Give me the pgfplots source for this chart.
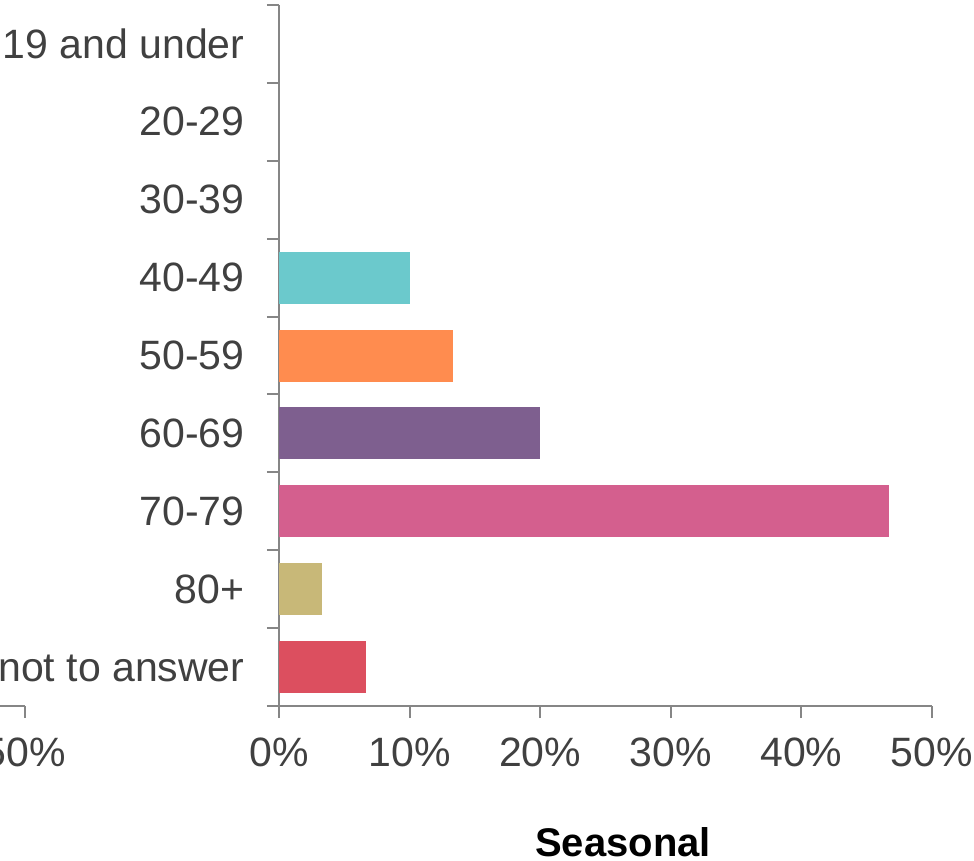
\documentclass[border=0pt]{standalone}
\usepackage{pgfplots}
\pgfplotsset{compat=1.18}
\usepackage{fontspec}
\setmainfont{Liberation Sans}
\definecolor{axgray}{HTML}{868686}
\definecolor{txtgray}{HTML}{404040}
\definecolor{cteal}{HTML}{6BC9CC}
\definecolor{corange}{HTML}{FF8C4F}
\definecolor{cpurple}{HTML}{7E5F8F}
\definecolor{cpink}{HTML}{D45F8E}
\definecolor{ckhaki}{HTML}{C8B878}
\definecolor{cred}{HTML}{DC4F5F}
\begin{document}
\begin{tikzpicture}
\path[use as bounding box] (0,0) rectangle (974pt,861pt);
% partial neighbouring axis on the left (only its right end is visible)
\begin{axis}[
  at={(-628pt,155pt)}, anchor=south west,
  scale only axis, width=653pt, height=701pt,
  xmin=0, xmax=50, ymin=0, ymax=1,
  axis x line*=bottom, axis y line=none,
  axis line style={axgray, line width=2pt},
  xtick={0,10,20,30,40,50},
  xticklabels={0\%,10\%,20\%,30\%,40\%,50\%},
  tick align=outside, major tick length=12pt,
  tick style={axgray, line width=2pt},
  xticklabel style={font=\fontsize{41}{49}\selectfont, text=txtgray, yshift=-16pt},
]
\addplot[draw=none] coordinates {(0,0)};
\end{axis}
% main axis
\begin{axis}[
  at={(279pt,155pt)}, anchor=south west,
  scale only axis, width=653pt, height=701pt,
  xbar, bar width=52pt,
  xmin=0, xmax=50, ymin=-0.5, ymax=8.5, y dir=reverse,
  axis x line*=bottom, axis y line*=left,
  axis line style={axgray, line width=2pt},
  xtick={0,10,20,30,40,50},
  xticklabels={0\%,10\%,20\%,30\%,40\%,50\%},
  ytick={0,1,2,3,4,5,6,7,8},
  yticklabels={19 and under,20-29,30-39,40-49,50-59,60-69,70-79,80+,Prefer not to answer},
  minor ytick={-0.5,0.5,1.5,2.5,3.5,4.5,5.5,6.5,7.5,8.5},
  tick align=outside, major tick length=12pt, minor tick length=12pt,
  major x tick style={axgray, line width=2pt},
  major y tick style={draw=none},
  minor tick style={axgray, line width=2pt},
  every tick label/.append style={font=\fontsize{41}{49}\selectfont, text=txtgray},
  xticklabel style={yshift=-16pt},
  yticklabel style={xshift=-19pt},
  xlabel={\textbf{Seasonal}},
  xlabel style={at={(axis description cs:0.527,0)}, anchor=base, yshift=-150pt, font=\fontsize{40}{48}\selectfont, text=black},
  clip=false,
]
\addplot[fill=cteal, draw=none, bar shift=0pt] coordinates {(10,3)};
\addplot[fill=corange, draw=none, bar shift=0pt] coordinates {(13.33,4)};
\addplot[fill=cpurple, draw=none, bar shift=0pt] coordinates {(20,5)};
\addplot[fill=cpink, draw=none, bar shift=0pt] coordinates {(46.67,6)};
\addplot[fill=ckhaki, draw=none, bar shift=0pt] coordinates {(3.33,7)};
\addplot[fill=cred, draw=none, bar shift=0pt] coordinates {(6.67,8)};
\end{axis}
\end{tikzpicture}
\end{document}
